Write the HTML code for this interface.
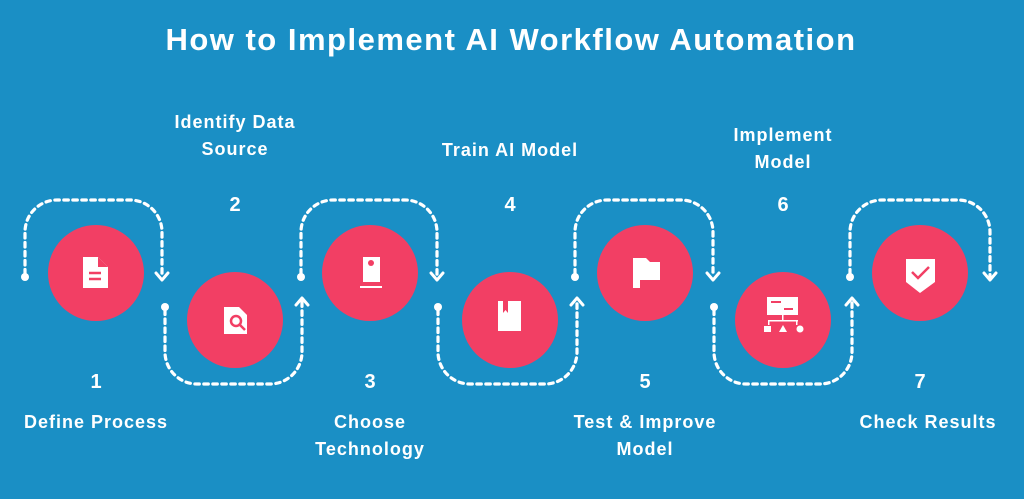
<!DOCTYPE html>
<html><head><meta charset="utf-8"><style>
html,body{margin:0;padding:0;background:#1a8fc5;}
svg{display:block}
text{font-family:"Liberation Sans",sans-serif;fill:#fff;font-weight:bold;text-anchor:middle}
</style></head><body>
<svg width="1024" height="499" viewBox="0 0 1024 499" xmlns="http://www.w3.org/2000/svg">
<rect width="1024" height="499" fill="#1a8fc5"/>
<text x="511" y="50" font-size="31" letter-spacing="1.5">How to Implement AI Workflow Automation</text>
<g fill="none" stroke="#fff" stroke-width="3.2" stroke-dasharray="4.5 4.5" stroke-linecap="round">
<path d="M25 274 V232 A32 32 0 0 1 57 200 H130 A32 32 0 0 1 162 232 V276"/>
<path d="M301 274 V232 A32 32 0 0 1 333 200 H405 A32 32 0 0 1 437 232 V276"/>
<path d="M575 274 V232 A32 32 0 0 1 607 200 H681 A32 32 0 0 1 713 232 V276"/>
<path d="M850 274 V232 A32 32 0 0 1 882 200 H958 A32 32 0 0 1 990 232 V276"/>
<path d="M165 310 V352 A32 32 0 0 0 197 384 H270 A32 32 0 0 0 302 352 V302"/>
<path d="M438 310 V352 A32 32 0 0 0 470 384 H545 A32 32 0 0 0 577 352 V302"/>
<path d="M714 310 V352 A32 32 0 0 0 746 384 H820 A32 32 0 0 0 852 352 V302"/>
</g>
<g fill="none" stroke="#fff" stroke-width="3" stroke-linecap="round" stroke-linejoin="round">
<polyline points="156,273 162,280 168,273"/><polyline points="431,273 437,280 443,273"/>
<polyline points="707,273 713,280 719,273"/><polyline points="984,273 990,280 996,273"/>
<polyline points="296,305 302,298 308,305"/><polyline points="571,305 577,298 583,305"/>
<polyline points="846,305 852,298 858,305"/>
</g>
<g fill="#fff">
<circle cx="25" cy="277" r="4"/><circle cx="301" cy="277" r="4"/><circle cx="575" cy="277" r="4"/><circle cx="850" cy="277" r="4"/>
<circle cx="165" cy="307" r="4"/><circle cx="438" cy="307" r="4"/><circle cx="714" cy="307" r="4"/>
</g>
<g fill="#f23f64">
<circle cx="96" cy="273" r="48"/><circle cx="235" cy="320" r="48"/><circle cx="370" cy="273" r="48"/>
<circle cx="510" cy="320" r="48"/><circle cx="645" cy="273" r="48"/><circle cx="783" cy="320" r="48"/>
<circle cx="920" cy="273" r="48"/>
</g>
<g fill="#fff">
<path d="M83 257 H98 L108 267 V288 H83 Z"/>
<path d="M224 307 H239 L247 315 V334 H224 Z"/>
<rect x="363" y="257" width="17" height="25"/>
<rect x="360" y="286" width="22" height="2"/>
<rect x="498" y="301" width="23" height="30"/>
<path d="M633 258 H646 L650 262 H660 V280 H640 V288 H633 Z"/>
<rect x="767" y="297" width="31" height="18"/>
<rect x="782" y="315" width="1.5" height="6"/><rect x="768" y="320" width="30" height="1.5"/>
<rect x="768" y="320" width="1.5" height="5"/><rect x="796" y="320" width="1.5" height="5"/>
<rect x="764" y="326" width="7" height="6"/><path d="M783 325 L787 332 H779 Z"/><circle cx="800" cy="329" r="3.5"/>
<path d="M906 259 H935 V282 L920 293 L906 282 Z"/>
</g>
<g fill="none" stroke="#f23f64" stroke-width="2.5">
<line x1="89" y1="273" x2="101" y2="273"/><line x1="89" y1="279" x2="101" y2="279"/>
<circle cx="236" cy="321" r="5"/><line x1="240" y1="325" x2="245" y2="330"/>
<polyline points="912,272 918,278 929,267"/>
</g>
<g fill="#f23f64"><path d="M98 257 L108 267 H98 Z"/><circle cx="371" cy="263" r="3"/><path d="M503 301 H508 V313 L505.5 310 L503 313 Z"/>
<rect x="771" y="301" width="10" height="2"/><rect x="784" y="308" width="9" height="2"/></g>
<g font-size="20">
<text x="96" y="388">1</text><text x="235" y="211">2</text><text x="370" y="388">3</text>
<text x="510" y="211">4</text><text x="645" y="388">5</text><text x="783" y="211">6</text><text x="920" y="388">7</text>
</g>
<g font-size="18" letter-spacing="1">
<text x="96" y="428">Define Process</text>
<text x="235" y="128">Identify Data</text><text x="235" y="155">Source</text>
<text x="370" y="428">Choose</text><text x="370" y="455">Technology</text>
<text x="510" y="156">Train AI Model</text>
<text x="645" y="428">Test &amp; Improve</text><text x="645" y="455">Model</text>
<text x="783" y="141">Implement</text><text x="783" y="168">Model</text>
<text x="928" y="428">Check Results</text>
</g>
</svg>
</body></html>
